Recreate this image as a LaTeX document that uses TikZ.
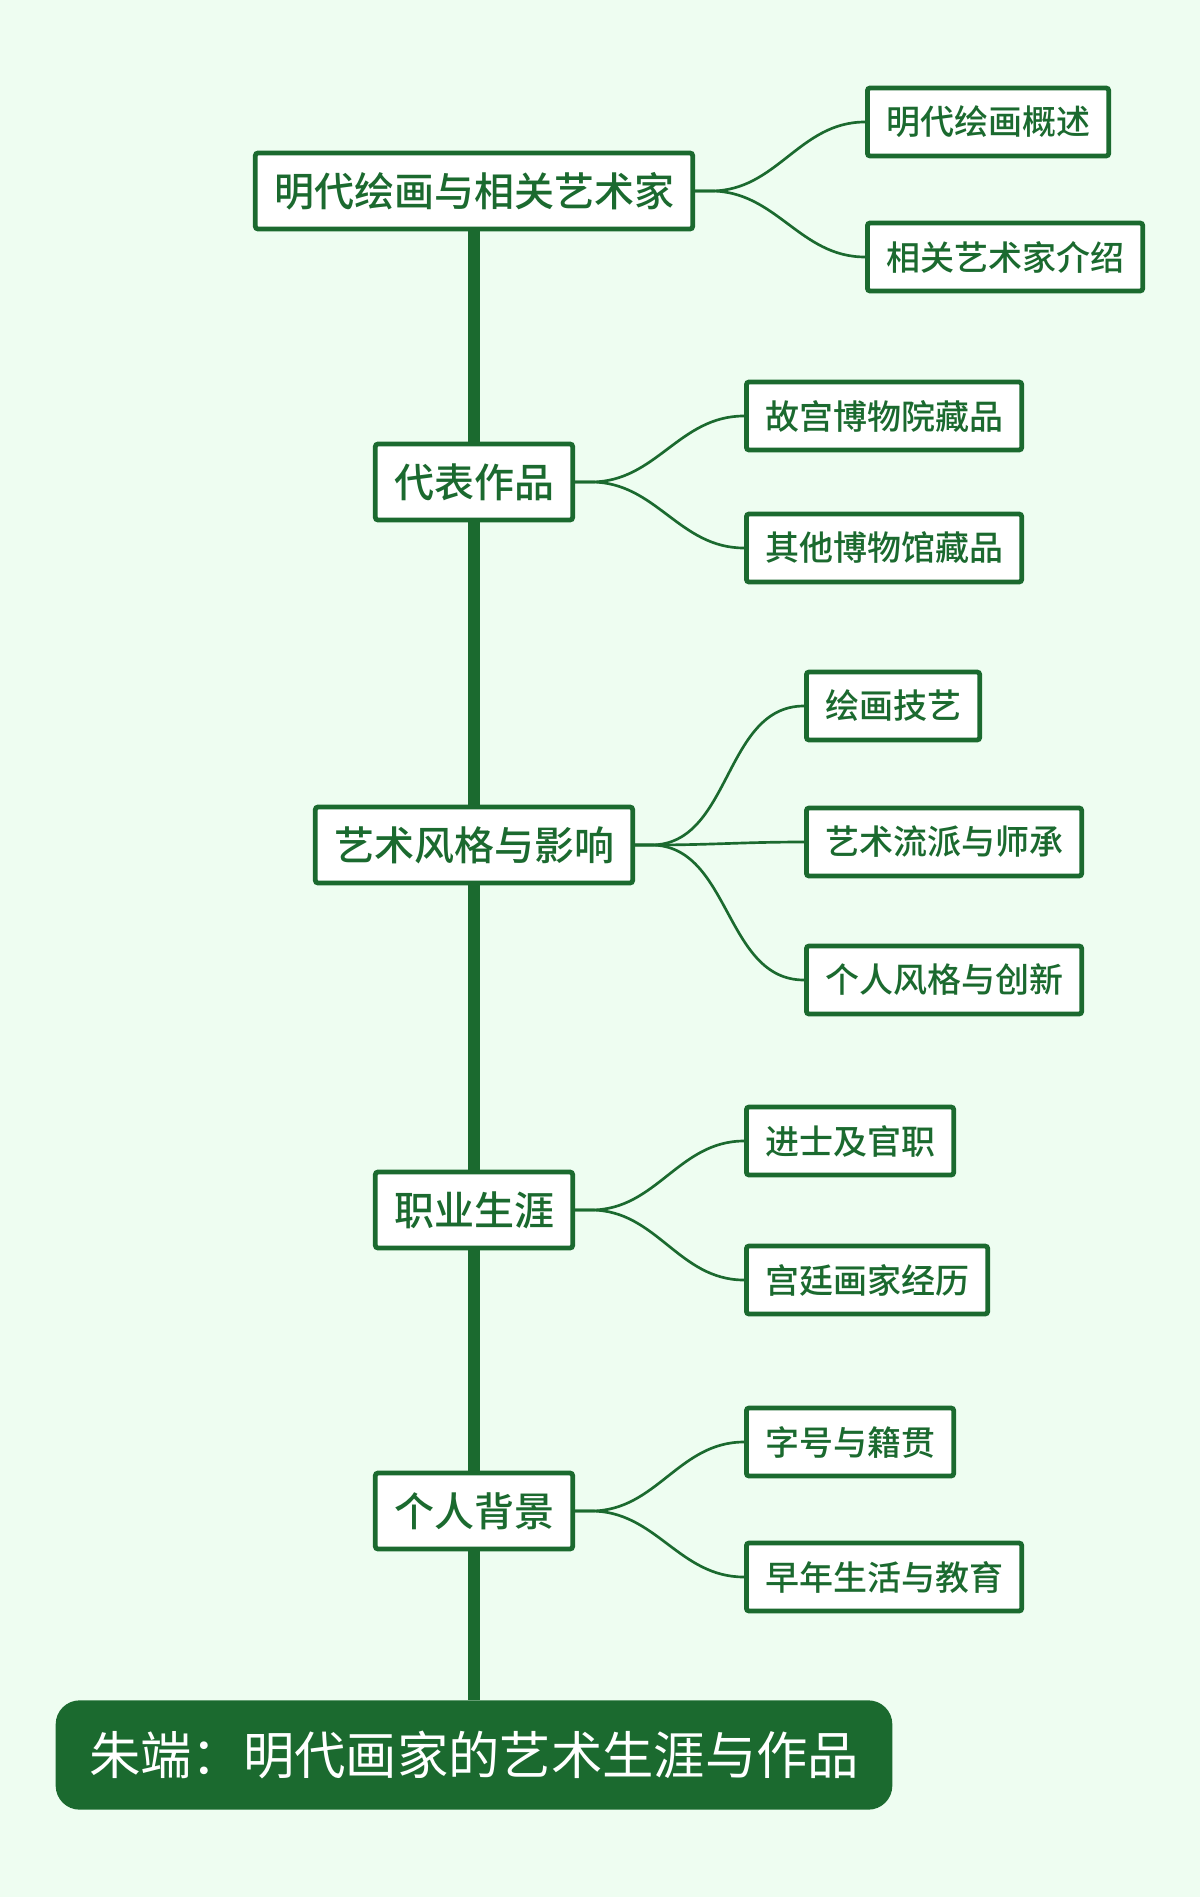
\documentclass[tikz,border=0pt]{standalone}
\usepackage{fontspec}
\setmainfont{Noto Sans CJK SC}
\newfontfamily\midfont{Noto Sans CJK SC Medium}
\usepackage{xcolor}
\usepackage{tikz}
\definecolor{leaf}{HTML}{1B6A2F}
\definecolor{mint}{HTML}{EEFDF1}

\begin{document}
\begin{tikzpicture}[x=0.75pt, y=-0.75pt,
  topic/.style={draw=leaf, line width=3.6pt, fill=white, rounded corners=2pt, text=leaf, font=\midfont\fontsize{30}{36}\selectfont, inner xsep=14pt, minimum height=57pt},
  sub/.style={draw=leaf, line width=3.6pt, fill=white, rounded corners=2pt, text=leaf, font=\midfont\fontsize{25.5}{30}\selectfont, inner xsep=14pt, minimum height=51pt},
  spine/.style={draw=leaf, line width=8.5pt},
  twig/.style={draw=leaf, line width=2pt}]
				\useasboundingbox[fill=mint] (0,0) rectangle (1200,1897);
				\node (root) at (474,1755) [fill=leaf, rounded corners=18pt, text=white, font=\fontsize{38.5}{44}\selectfont, inner xsep=25pt, minimum height=82pt] {朱端：明代画家的艺术生涯与作品};
				\node (ming) at (474,191) [topic] {明代绘画与相关艺术家};
				\node (works) at (474,482) [topic] {代表作品};
				\node (style) at (474,845) [topic] {艺术风格与影响};
				\node (career) at (474,1210) [topic] {职业生涯};
				\node (bg) at (474,1511) [topic] {个人背景};
				
				\node (overview) at (865,122) [sub, anchor=west] {明代绘画概述};
				\node (artists) at (865,257) [sub, anchor=west] {相关艺术家介绍};
				\node (palace) at (744,416) [sub, anchor=west] {故宫博物院藏品};
				\node (other) at (744,548) [sub, anchor=west] {其他博物馆藏品};
				\node (skill) at (804,706) [sub, anchor=west] {绘画技艺};
				\node (school) at (804,842) [sub, anchor=west] {艺术流派与师承};
				\node (innov) at (804,980) [sub, anchor=west] {个人风格与创新};
				\node (jinshi) at (744,1141) [sub, anchor=west] {进士及官职};
				\node (court) at (744,1280) [sub, anchor=west] {宫廷画家经历};
				\node (name) at (744,1442) [sub, anchor=west] {字号与籍贯};
				\node (youth) at (744,1577) [sub, anchor=west] {早年生活与教育};
				
				\draw[spine] (ming) -- (works);
				\draw[spine] (works) -- (style);
				\draw[spine] (style) -- (career);
				\draw[spine] (career) -- (bg);
				\draw[spine] (bg) -- (root);
				
				\draw[twig] (ming.east) -- ++(16,0) to[out=0, in=180] (overview.west);
				\draw[twig] (ming.east) -- ++(16,0) to[out=0, in=180] (artists.west);
				\draw[twig] (works.east) -- ++(16,0) to[out=0, in=180] (palace.west);
				\draw[twig] (works.east) -- ++(16,0) to[out=0, in=180] (other.west);
				\draw[twig] (style.east) -- ++(16,0) to[out=0, in=180] (skill.west);
				\draw[twig] (style.east) -- ++(16,0) to[out=0, in=180] (school.west);
				\draw[twig] (style.east) -- ++(16,0) to[out=0, in=180] (innov.west);
				\draw[twig] (career.east) -- ++(16,0) to[out=0, in=180] (jinshi.west);
				\draw[twig] (career.east) -- ++(16,0) to[out=0, in=180] (court.west);
				\draw[twig] (bg.east) -- ++(16,0) to[out=0, in=180] (name.west);
				\draw[twig] (bg.east) -- ++(16,0) to[out=0, in=180] (youth.west);
			\end{tikzpicture}
\end{document}
